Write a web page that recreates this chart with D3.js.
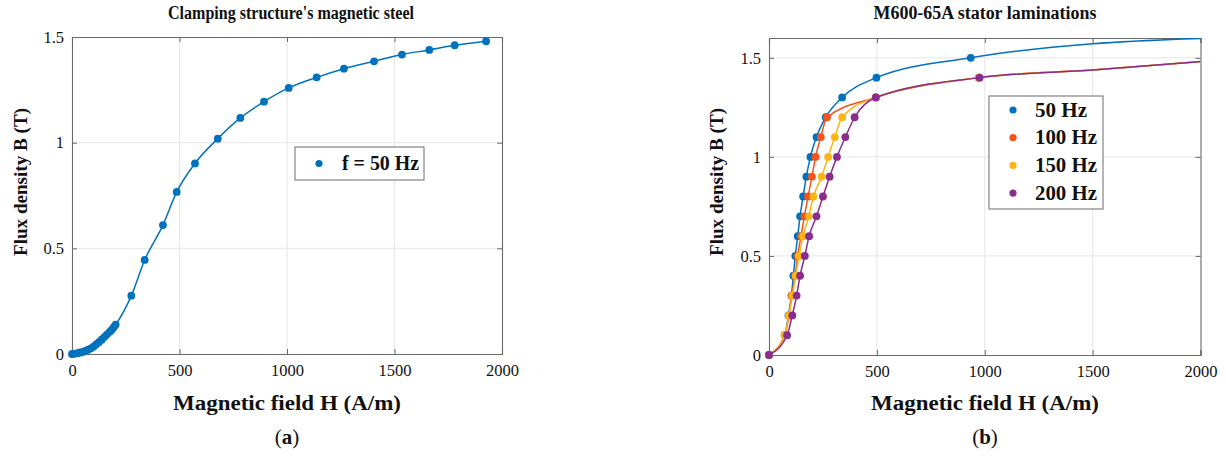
<!DOCTYPE html>
<html><head><meta charset="utf-8">
<script src="https://cdn.jsdelivr.net/npm/d3@7"></script>
<style>body{margin:0;background:#fff}svg{display:block}text{font-family:"Liberation Serif","Times New Roman",serif;fill:#111}</style>
</head><body><svg id="c" width="1226" height="458"></svg>
<script>
// ---- Panel (a): clamping structure's magnetic steel, f = 50 Hz ----
const clampH = [0,12,25,38,50,62,75,88,100,112,125,138,150,162,175,185,195,203,276,338,423,487,572,678,783,893,1008,1138,1265,1405,1535,1662,1780,1926];
const clampB = [0,0.001,0.004,0.007,0.010,0.015,0.020,0.027,0.035,0.045,0.056,0.068,0.080,0.092,0.105,0.115,0.128,0.139,0.276,0.445,0.61,0.767,0.902,1.019,1.117,1.194,1.259,1.309,1.35,1.385,1.417,1.439,1.461,1.48];

// ---- Panel (b): M600-65A stator laminations ----
const freqLabels = ["50 Hz","100 Hz","150 Hz","200 Hz"];
const statorB = [0,0.1,0.2,0.3,0.4,0.5,0.6,0.7,0.8,0.9,1.0,1.1,1.2,1.3,1.4,1.5];
const H50  = [0,73,90,104,113,122,133,144,158,173,192,220,263,339,498,935];
const H100 = [0,73,93,105,121,133,148,164,181,199,216,240,269,495,972];
const H150 = [0,73,92,108,124,139,158,184,206,244,274,305,339,495,972];
const H200 = [0,84,108,128,144,166,186,220,250,281,315,354,397,495,976];
// fitted curve continuation beyond last measured point (no markers)
const tailH50 = [1500,2000], tailB50 = [1.571,1.598];
const tailH = [1500,2000], tailB = [1.439,1.481];

const xTicks = [0,500,1000,1500,2000];
const yTicksA = [0,0.5,1,1.5], yTickLabelsA = ["0","0.5","1","1.5"];
const yTicksB = [0,0.5,1,1.5], yTickLabelsB = ["0","0.5","1","1.5"];
const colors = ["#0072BD","#F5531C","#FDB515","#892C8E"];

const svg = d3.select("#c");

function panel(o){
  const g = svg.append("g");
  const x = d3.scaleLinear().domain([0,2000]).range([o.x0,o.x1]);
  const y = d3.scaleLinear().domain([0,o.ymax]).range([o.y0,o.y1]);
  // grid
  g.append("g").selectAll("line").data(xTicks.slice(1,-1)).join("line")
    .attr("x1",d=>x(d)).attr("x2",d=>x(d)).attr("y1",o.y0).attr("y2",o.y1)
    .attr("stroke","#e6e6e6").attr("stroke-width",1);
  g.append("g").selectAll("line").data(o.yTicks.filter(d=>d>0&&d<o.ymax)).join("line")
    .attr("y1",d=>y(d)).attr("y2",d=>y(d)).attr("x1",o.x0).attr("x2",o.x1)
    .attr("stroke","#e6e6e6").attr("stroke-width",1);
  // axes (inward ticks, box)
  const ax = d3.axisBottom(x).tickValues(xTicks).tickSize(-5).tickPadding(10).tickFormat(d3.format("d"));
  const axT = d3.axisTop(x).tickValues(xTicks).tickSize(-5).tickFormat("");
  const ay = d3.axisLeft(y).tickValues(o.yTicks).tickSize(-5).tickPadding(8).tickFormat((d,i)=>o.yLabels[i]);
  const ayR = d3.axisRight(y).tickValues(o.yTicks).tickSize(-5).tickFormat("");
  const gs = [
    g.append("g").attr("transform",`translate(0,${o.y0})`).call(ax),
    g.append("g").attr("transform",`translate(0,${o.y1})`).call(axT),
    g.append("g").attr("transform",`translate(${o.x0},0)`).call(ay),
    g.append("g").attr("transform",`translate(${o.x1},0)`).call(ayR)];
  gs.forEach(a=>{
    a.select(".domain").attr("stroke","#6a6a6a").attr("stroke-width",1.1);
    a.selectAll(".tick line").attr("stroke","#6a6a6a");
    a.selectAll("text").attr("font-size",16.5).attr("font-family",'"Liberation Serif",serif').attr("fill","#222");
  });
  // titles
  g.append("text").attr("x",o.tcx).attr("y",19).attr("text-anchor","middle")
    .attr("font-size",18.5).attr("font-weight","bold")
    .attr("textLength",o.tlen).attr("lengthAdjust","spacingAndGlyphs").text(o.title);
  g.append("text").attr("x",o.xlcx).attr("y",410).attr("text-anchor","middle")
    .attr("font-size",20).attr("font-weight","bold")
    .attr("textLength",228).attr("lengthAdjust","spacingAndGlyphs").text("Magnetic field H (A/m)");
  g.append("text").attr("transform",`translate(${o.ylx},182) rotate(-90)`)
    .attr("text-anchor","middle").attr("font-size",19).attr("font-weight","bold")
    .attr("textLength",148).attr("lengthAdjust","spacingAndGlyphs").text("Flux density B (T)");
  const sub = g.append("text").attr("x",o.xlcx).attr("y",444).attr("text-anchor","middle").attr("font-size",21);
  sub.append("tspan").text("(");
  sub.append("tspan").attr("font-weight","bold").text(o.letter);
  sub.append("tspan").text(")");
  return {g,x,y};
}

// Panel A
const A = panel({x0:72,x1:502,y0:354,y1:37,ymax:1.5,yTicks:yTicksA,yLabels:yTickLabelsA,
  title:"Clamping structure's magnetic steel",letter:"a",ylx:27,tcx:291,tlen:246,xlcx:287});
const ptsA = clampH.map((h,i)=>[h,clampB[i]]);
A.g.append("path").datum(ptsA)
  .attr("d",d3.line().x(d=>A.x(d[0])).y(d=>A.y(d[1])).curve(d3.curveMonotoneX))
  .attr("fill","none").attr("stroke",colors[0]).attr("stroke-width",1.5);
A.g.append("g").selectAll("circle").data(ptsA).join("circle")
  .attr("cx",d=>A.x(d[0])).attr("cy",d=>A.y(d[1])).attr("r",3.9).attr("fill",colors[0]);
// legend A
A.g.append("rect").attr("x",295).attr("y",147).attr("width",129).attr("height",33)
  .attr("fill","#fff").attr("stroke","#6a6a6a").attr("stroke-width",1);
A.g.append("circle").attr("cx",319).attr("cy",163.5).attr("r",3.6).attr("fill",colors[0]);
A.g.append("text").attr("x",342).attr("y",170).attr("font-size",20).attr("font-weight","bold")
  .attr("textLength",77).attr("lengthAdjust","spacingAndGlyphs").text("f = 50 Hz");

// Panel B
const Bp = panel({x0:769,x1:1200.5,y0:355,y1:38,ymax:1.6,yTicks:yTicksB,yLabels:yTickLabelsB,
  title:"M600-65A stator laminations",letter:"b",ylx:723,tcx:985,tlen:223,xlcx:985});
const series = [H50,H100,H150,H200].map((hs,k)=>({
  pts: hs.map((h,i)=>[h,statorB[i]]),
  tail: k===0 ? tailH50.map((h,i)=>[h,tailB50[i]]) : tailH.map((h,i)=>[h,tailB[i]]),
  color: colors[k], label: freqLabels[k]}));
Bp.g.append("clipPath").attr("id","clipB").append("rect")
  .attr("x",769).attr("y",38).attr("width",431.5).attr("height",317);
series.forEach(s=>{
  Bp.g.append("path").datum(s.pts.concat(s.tail))
    .attr("d",d3.line().x(d=>Bp.x(d[0])).y(d=>Bp.y(d[1])).curve(d3.curveMonotoneX))
    .attr("fill","none").attr("stroke",s.color).attr("stroke-width",1.5).attr("clip-path","url(#clipB)");
  Bp.g.append("g").selectAll("circle").data(s.pts).join("circle")
    .attr("cx",d=>Bp.x(d[0])).attr("cy",d=>Bp.y(d[1])).attr("r",3.9).attr("fill",s.color);
});
// legend B
Bp.g.append("rect").attr("x",989).attr("y",96).attr("width",114).attr("height",113)
  .attr("fill","#fff").attr("stroke","#6a6a6a").attr("stroke-width",1);
series.forEach((s,i)=>{
  const yy = 110 + i*27.7;
  Bp.g.append("circle").attr("cx",1013).attr("cy",yy).attr("r",3.6).attr("fill",s.color);
  Bp.g.append("text").attr("x",1035).attr("y",yy+6.5).attr("font-size",20).attr("font-weight","bold")
    .attr("textLength",s.label.length===5?52:62).attr("lengthAdjust","spacingAndGlyphs").text(s.label);
});
</script></body></html>
